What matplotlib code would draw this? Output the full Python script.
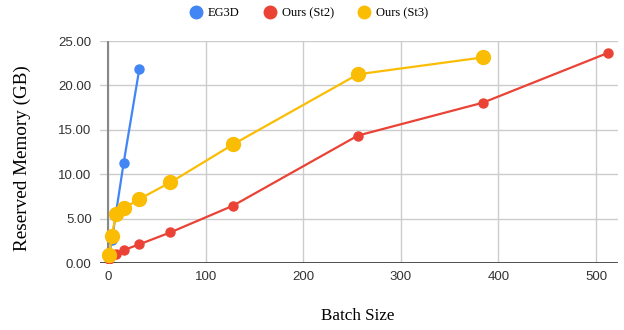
import matplotlib.pyplot as plt
from matplotlib.lines import Line2D

# datos
batch_eg3d = [1, 4, 8, 16, 32]
mem_eg3d = [0.9, 2.6, 5.5, 11.25, 21.8]

batch_st2 = [1, 4, 8, 16, 32, 64, 128, 256, 384, 512]
mem_st2 = [0.5, 0.9, 1.05, 1.45, 2.1, 3.45, 6.45, 14.35, 18.05, 23.65]

batch_st3 = [1, 4, 8, 16, 32, 64, 128, 256, 384]
mem_st3 = [0.87, 3.05, 5.5, 6.15, 7.2, 9.08, 13.35, 21.25, 23.15]

series_names = ['EG3D', 'Ours (St2)', 'Ours (St3)']
colores = ['#4285F4', '#EA4335', '#FBBC04']

serif = ['Liberation Serif', 'DejaVu Serif']
sans = ['Liberation Sans', 'DejaVu Sans']

fig = plt.figure(figsize=(6.24, 3.3), dpi=100)
ax = fig.add_axes([100/624, 1 - 263/330, 518/624, 222/330])

ax.plot(batch_eg3d, mem_eg3d, color=colores[0], lw=1.6, marker='o', ms=6.5, zorder=3)
ax.plot(batch_st2, mem_st2, color=colores[1], lw=1.6, marker='o', ms=6.5, zorder=4)
ax.plot(batch_st3, mem_st3, color=colores[2], lw=1.6, marker='o', ms=10, zorder=5)

ax.set_xlim(-8.2, 522.5)
ax.set_ylim(0, 25)
ax.set_xticks([0, 100, 200, 300, 400, 500])
ax.set_yticks([0, 5, 10, 15, 20, 25])
ax.set_yticklabels(['%.2f' % v for v in ax.get_yticks()])

ax.grid(True, color='#cccccc', lw=1)
ax.set_axisbelow(True)
for s in ax.spines.values():
    s.set_visible(False)
ax.axhline(0, color='#333333', lw=1.2, zorder=2)
ax.axvline(0, color='#888888', lw=1.5, zorder=2)
ax.tick_params(length=0, labelsize=9.5, colors='#444444', pad=6)
for lab in ax.get_xticklabels() + ax.get_yticklabels():
    lab.set_family(sans)
    lab.set_color('#333333')

fig.text(358/624, 1 - 316/330, 'Batch Size', family=serif, fontsize=12.3,
         ha='center', va='center')
fig.text(22/624, 1 - 158/330, 'Reserved Memory (GB)', family=serif, fontsize=13.8,
         ha='center', va='center', rotation=90)

handles = [Line2D([], [], ls='none', marker='o', ms=9, color=c) for c in colores]
fig.legend(handles, series_names, loc='center', bbox_to_anchor=(309/624, 1 - 13/330),
           ncol=3, frameon=False, prop={'family': serif, 'size': 9},
           handletextpad=0.5, columnspacing=1.88, handlelength=1.0)

fig.savefig('out.png', dpi=100)
